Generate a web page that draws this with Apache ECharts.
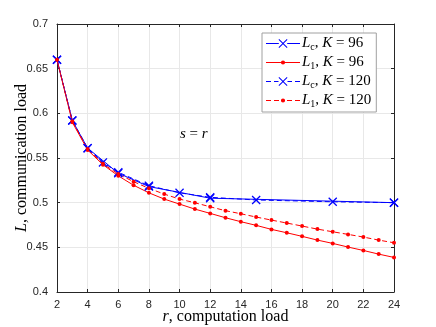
<!DOCTYPE html>
<html>
<head>
    <meta charset="utf-8">
    <title>ECharts</title>
    <script src="https://cdn.jsdelivr.net/npm/echarts@6/dist/echarts.min.js"></script>
    <style>body{margin:0;} #main{width:436px;height:327px;}</style>
</head>
<body>
    <div id="main"></div>
    <script type="text/javascript">
// data
var rLc96 = [2, 3, 4, 6, 8, 12, 24];
var lc96 = [0.660, 0.592, 0.561, 0.533, 0.518, 0.505, 0.500];

var rLc120 = [2, 3, 4, 5, 6, 8, 10, 12, 15, 20, 24];
var lc120 = [0.660, 0.592, 0.561, 0.545, 0.534, 0.519, 0.511, 0.506, 0.503, 0.501, 0.500];

var rL1 = [2, 3, 4, 5, 6, 7, 8, 9, 10, 11, 12, 13, 14, 15, 16, 17, 18, 19, 20, 21, 22, 23, 24];
var l1k96 = [0.660, 0.590, 0.559, 0.5425, 0.530, 0.5195, 0.511, 0.504, 0.4984, 0.4928, 0.488, 0.4831,
    0.4787, 0.4746, 0.4701, 0.4663, 0.4623, 0.4581, 0.4544, 0.4503, 0.4465, 0.4424, 0.4387];
var l1k120 = [0.660, 0.591, 0.560, 0.5435, 0.532, 0.5235, 0.516, 0.5096, 0.504, 0.4999, 0.4954, 0.491,
    0.4876, 0.4839, 0.4805, 0.4772, 0.4738, 0.4704, 0.4674, 0.4645, 0.4615, 0.4581, 0.4551];

var xTicks = [2, 24, 2];      // min, max, interval
var yTicks = [0.4, 0.7, 0.05];

function pairs(xs, ys) {
    return xs.map(function (x, i) { return [x, ys[i]]; });
}

var serif = 'Liberation Serif';
var cross = 'path://M0,1L1,0L5,4L9,0L10,1L6,5L10,9L9,10L5,6L1,10L0,9L4,5Z';

// legend icons (34 x 10 box): line pieces + marker
var box = 'M0,0L0.01,0Z M34,10L33.99,10Z ';
var xMark = 'M12.5,1.2L13.2,0.5L17,4.3L20.8,0.5L21.5,1.2L17.7,5L21.5,8.8L20.8,9.5L17,5.7L13.2,9.5L12.5,8.8L16.3,5Z';
var dot = 'M14.9,5A2.1,2.1 0 1,0 19.1,5A2.1,2.1 0 1,0 14.9,5Z';
function seg(a, b) {
    return 'M' + a + ',4.5L' + b + ',4.5L' + b + ',5.5L' + a + ',5.5Z ';
}
var iconLc96 = 'path://' + box + seg(0, 12.8) + seg(21.2, 34) + xMark;
var iconLc120 = 'path://' + box + seg(0, 5) + seg(8, 12.5) + seg(21.5, 26) + seg(29, 34) + xMark;
var iconL196 = 'path://' + box + seg(0, 15) + seg(19, 34) + dot;
var iconL1120 = 'path://' + box + seg(0, 5) + seg(8, 13) + seg(21, 26) + seg(29, 34) + dot;

var rich = {
    i: { fontFamily: serif, fontStyle: 'italic', fontSize: 15, color: '#000' },
    n: { fontFamily: serif, fontSize: 15, color: '#000' },
    sub: { fontFamily: serif, fontSize: 10, color: '#000', padding: [7, 0, 0, 0] }
};
var nameRich = {
    i: { fontFamily: serif, fontStyle: 'italic', fontSize: 16, color: '#000' },
    n: { fontFamily: serif, fontSize: 16, color: '#000' }
};

var myChart = echarts.init(document.getElementById('main'));

var gridLine = { show: true, lineStyle: { color: '#e8e8e8', width: 1 } };
var axisLine = { show: true, onZero: false, lineStyle: { color: '#262626', width: 1 } };
var tick = { show: true, inside: true, length: 3, lineStyle: { color: '#262626' } };
var label = { color: '#262626', fontFamily: 'Liberation Sans', fontSize: 11 };

var option = {
    animation: false,
    backgroundColor: '#fff',
    grid: { left: 57, right: 42, top: 24, bottom: 35, outerBoundsMode: 'none', containLabel: false },
    legend: {
        orient: 'vertical',
        left: 262,
        top: 33,
        padding: [3, 5, 3, 4],
        itemGap: 3,
        itemWidth: 34,
        itemHeight: 10,
        backgroundColor: '#fff',
        borderColor: '#a0a0a0',
        borderWidth: 1,
        borderRadius: 0,
        textStyle: { rich: rich, padding: [0, 0, 0, -3] },
        formatter: function (name) {
            var parts = name.split('|');
            return '{i|L}{sub|' + parts[0] + '}{n|, }{i|K}{n|\u2005=\u2005' + parts[1] + '}';
        },
        data: [
            { name: 'c|96', icon: iconLc96 },
            { name: '1|96', icon: iconL196 },
            { name: 'c|120', icon: iconLc120 },
            { name: '1|120', icon: iconL1120 }
        ]
    },
    xAxis: [{
        type: 'value', min: xTicks[0], max: xTicks[1], interval: xTicks[2],
        axisLine: axisLine, axisTick: tick, splitLine: gridLine,
        axisLabel: Object.assign({ margin: 7 }, label),
        name: '{i|r}{n|, computation load}',
        nameLocation: 'middle', nameGap: 17, nameMoveOverlap: false,
        nameTextStyle: { rich: nameRich }
    }, {
        type: 'value', position: 'top', min: xTicks[0], max: xTicks[1], interval: xTicks[2],
        axisLine: axisLine, axisTick: tick, axisLabel: { show: false }, splitLine: { show: false }
    }],
    yAxis: [{
        type: 'value', min: yTicks[0], max: yTicks[1], interval: yTicks[2],
        axisLine: axisLine, axisTick: tick, splitLine: gridLine,
        axisLabel: Object.assign({ margin: 9 }, label),
        name: '{i|L}{n|, communication load}',
        nameLocation: 'middle', nameGap: 27, nameMoveOverlap: false,
        nameTextStyle: { rich: nameRich }
    }, {
        type: 'value', position: 'right', min: yTicks[0], max: yTicks[1], interval: yTicks[2],
        axisLine: axisLine, axisTick: tick, axisLabel: { show: false }, splitLine: { show: false }
    }],
    graphic: [{
        type: 'text', left: 180, top: 127,
        style: {
            text: '{i|s}{n|\u2005=\u2005}{i|r}',
            rich: rich
        }
    }],
    series: [{
        name: 'c|96', type: 'line', data: pairs(rLc96, lc96),
        symbol: cross, symbolSize: 9,
        lineStyle: { color: '#0000ff', width: 1 },
        itemStyle: { color: '#0000ff' }
    }, {
        name: '1|96', type: 'line', data: pairs(rL1, l1k96),
        symbol: 'circle', symbolSize: 4,
        lineStyle: { color: '#ff0000', width: 1 },
        itemStyle: { color: '#ff0000' }
    }, {
        name: 'c|120', type: 'line', data: pairs(rLc120, lc120),
        symbol: cross, symbolSize: 9,
        lineStyle: { color: '#0000ff', width: 1, type: [5, 3] },
        itemStyle: { color: '#0000ff' }
    }, {
        name: '1|120', type: 'line', data: pairs(rL1, l1k120),
        symbol: 'circle', symbolSize: 4,
        lineStyle: { color: '#ff0000', width: 1, type: [5, 3] },
        itemStyle: { color: '#ff0000' }
    }]
};

myChart.setOption(option);
    </script>
</body>
</html>
